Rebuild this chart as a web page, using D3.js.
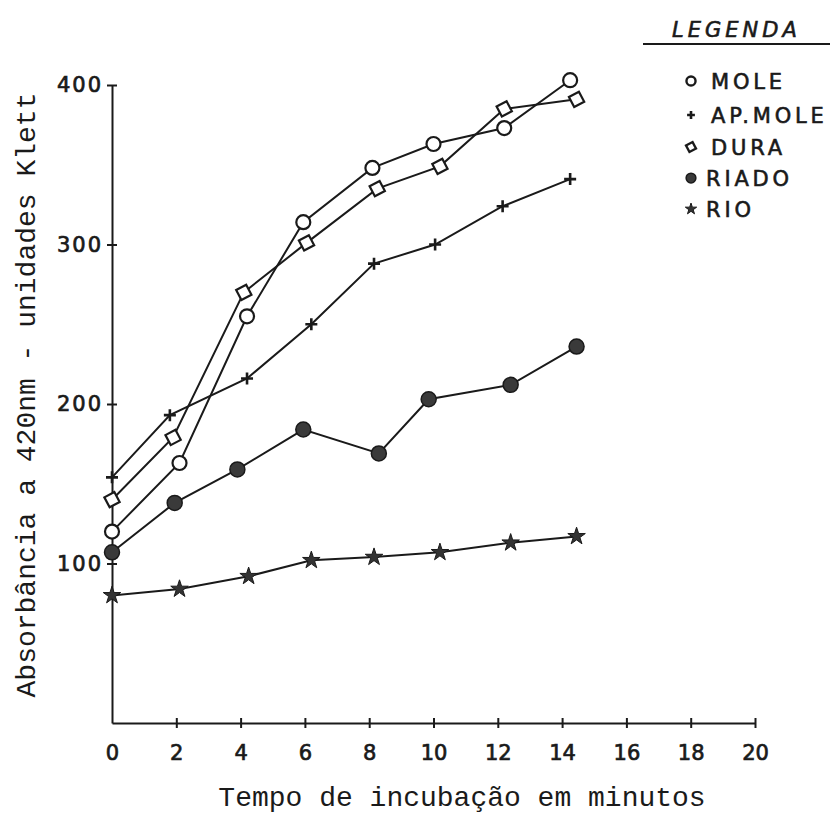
<!DOCTYPE html>
<html>
<head>
<meta charset="utf-8">
<script src="https://cdn.jsdelivr.net/npm/d3@7"></script>
<style>
  html, body { margin: 0; padding: 0; background: #fff; }
  svg { display: block; }
</style>
</head>
<body>
<div id="chart"></div>
<script>
// ---- data ----
const xTicks = [0, 2, 4, 6, 8, 10, 12, 14, 16, 18, 20];
const yTicks = [100, 200, 300, 400];

const moleT   = [0, 2.1, 4.2, 5.95, 8.1, 10.0, 12.2, 14.25];
const moleV   = [120, 163, 255, 314, 348, 363, 373, 403];

const apMoleT = [0, 1.8, 4.2, 6.2, 8.15, 10.05, 12.15, 14.25];
const apMoleV = [154, 193, 216, 250, 288, 300, 324, 341];

const duraT   = [0, 1.9, 4.1, 6.05, 8.25, 10.2, 12.2, 14.45];
const duraV   = [140, 179, 270, 301, 335, 349, 385, 391];

const riadoT  = [0, 1.95, 3.9, 5.95, 8.3, 9.85, 12.4, 14.45];
const riadoV  = [107, 138, 159, 184, 169, 203, 212, 236];

const rioT    = [0, 2.1, 4.25, 6.2, 8.15, 10.2, 12.4, 14.45];
const rioV    = [80, 84, 92, 102, 104, 107, 113, 117];

const legendLabels = ["MOLE", "AP.MOLE", "DURA", "RIADO", "RIO"];
const legendTitle = "LEGENDA";
const xTitle = "Tempo de incubação em minutos";
const yTitle = "Absorbância a 420nm - unidades Klett";

// ---- setup ----
const W = 830, H = 825;
const ink = "#1a1a1a";
const svg = d3.select("#chart").append("svg").attr("width", W).attr("height", H);

const x = d3.scaleLinear().domain([0, 20]).range([112, 755]);
const y = d3.scaleLinear().domain([0, 400]).range([723, 85]);

const series = [
  { t: moleT,   v: moleV,   shape: "circle",  curve: d3.curveLinear },
  { t: apMoleT, v: apMoleV, shape: "plus",    curve: d3.curveLinear },
  { t: duraT,   v: duraV,   shape: "diamond", curve: d3.curveLinear },
  { t: riadoT,  v: riadoV,  shape: "dot",     curve: d3.curveLinear },
  { t: rioT,    v: rioV,    shape: "star",    curve: d3.curveLinear }
];

// ---- axes ----
const tickFont = "'DejaVu Sans', sans-serif";

function styleTickText(sel) {
  sel.attr("font-family", tickFont).attr("font-weight", "normal")
    .attr("font-size", 21).attr("fill", ink)
    .attr("stroke", ink).attr("stroke-width", 0.7);
}

const yAxis = d3.axisLeft(y).tickValues(yTicks).tickSizeInner(5).tickSizeOuter(0).tickPadding(4)
  .tickFormat(d3.format("d"));
const gy = svg.append("g").attr("transform", `translate(${x(0)},0)`).call(yAxis);
gy.select(".domain").attr("stroke", ink).attr("stroke-width", 2);
gy.selectAll(".tick line").attr("stroke", ink).attr("stroke-width", 2).attr("x1", -5).attr("x2", 5);
gy.selectAll(".tick text").call(styleTickText).attr("letter-spacing", 2);

const xAxis = d3.axisBottom(x).tickValues(xTicks).tickSizeInner(5).tickSizeOuter(0).tickPadding(17)
  .tickFormat(d3.format("d"));
const gx = svg.append("g").attr("transform", `translate(0,${y(0)})`).call(xAxis);
gx.select(".domain").attr("stroke", ink).attr("stroke-width", 2);
gx.selectAll(".tick line").attr("stroke", ink).attr("stroke-width", 2)
  .attr("y1", -5).attr("y2", 5)
  .attr("opacity", d => d === 0 ? 0 : 1);
gx.selectAll(".tick text").call(styleTickText);

// ---- axis titles ----
svg.append("text")
  .attr("x", 462).attr("y", 806)
  .attr("text-anchor", "middle")
  .attr("font-family", "'Liberation Mono', 'DejaVu Sans Mono', monospace")
  .attr("font-size", 28).attr("fill", ink)
  .text(xTitle);

svg.append("text")
  .attr("transform", "translate(35,395) rotate(-90)")
  .attr("text-anchor", "middle")
  .attr("font-family", "'Liberation Mono', 'DejaVu Sans Mono', monospace")
  .attr("font-size", 28).attr("fill", ink)
  .text(yTitle);

// ---- markers ----
function drawMarker(g, shape, cx, cy, scale = 1) {
  const sw = scale < 1 ? 2.4 : 2.2;
  if (shape === "circle") {
    g.append("circle").attr("cx", cx).attr("cy", cy).attr("r", 7 * scale)
      .attr("fill", "#fff").attr("stroke", ink).attr("stroke-width", sw);
  } else if (shape === "diamond") {
    const r = 8 * scale;
    const a = 0.3;
    const pts = [[0, -r], [r, 0], [0, r], [-r, 0]].map(p =>
      [cx + p[0] * Math.cos(a) - p[1] * Math.sin(a), cy + p[0] * Math.sin(a) + p[1] * Math.cos(a)]);
    g.append("path").attr("d", d3.line()(pts) + "Z")
      .attr("fill", "#fff").attr("stroke", ink).attr("stroke-width", sw);
  } else if (shape === "plus") {
    const r = 6 * scale;
    g.append("path").attr("d", `M${cx - r},${cy}L${cx + r},${cy}M${cx},${cy - r}L${cx},${cy + r}`)
      .attr("stroke", ink).attr("stroke-width", 2.6).attr("fill", "none");
  } else if (shape === "dot") {
    g.append("circle").attr("cx", cx).attr("cy", cy).attr("r", 7.5 * scale)
      .attr("fill", "#3a3a3a").attr("stroke", ink).attr("stroke-width", 1.5);
  } else if (shape === "star") {
    g.append("path").attr("d", d3.symbol().type(d3.symbolStar).size(95 * scale * scale)())
      .attr("transform", `translate(${cx},${cy})`)
      .attr("fill", "#333").attr("stroke", ink).attr("stroke-width", 1);
  }
}

// ---- lines & points ----
const plot = svg.append("g");
series.forEach(s => {
  const data = s.t.map((t, i) => [t, s.v[i]]);
  const line = d3.line().x(d => x(d[0])).y(d => y(d[1])).curve(s.curve);
  plot.append("path").datum(data).attr("d", line)
    .attr("fill", "none").attr("stroke", ink).attr("stroke-width", 2);
});
series.forEach(s => {
  const g = plot.append("g");
  s.t.forEach((t, i) => drawMarker(g, s.shape, x(t), y(s.v[i])));
});

// ---- legend ----
const lg = svg.append("g");
lg.append("text").attr("x", 672).attr("y", 37)
  .attr("font-family", tickFont).attr("font-style", "italic")
  .attr("font-size", 21).attr("letter-spacing", 4).attr("fill", ink)
  .attr("stroke", ink).attr("stroke-width", 0.6)
  .text(legendTitle);
lg.append("line").attr("x1", 643).attr("x2", 830).attr("y1", 44).attr("y2", 44)
  .attr("stroke", ink).attr("stroke-width", 2);

const legendY = [81, 115, 147, 178, 209];
legendLabels.forEach((lab, i) => {
  const s = series[i];
  drawMarker(lg, s.shape, 691, legendY[i], 0.65);
  lg.append("text").attr("x", i >= 3 ? 706 : 711).attr("y", legendY[i] + 8)
    .attr("font-family", tickFont).attr("font-size", 21).attr("letter-spacing", 3.8)
    .attr("fill", ink).attr("stroke", ink).attr("stroke-width", 0.6)
    .text(lab);
});
</script>
</body>
</html>
